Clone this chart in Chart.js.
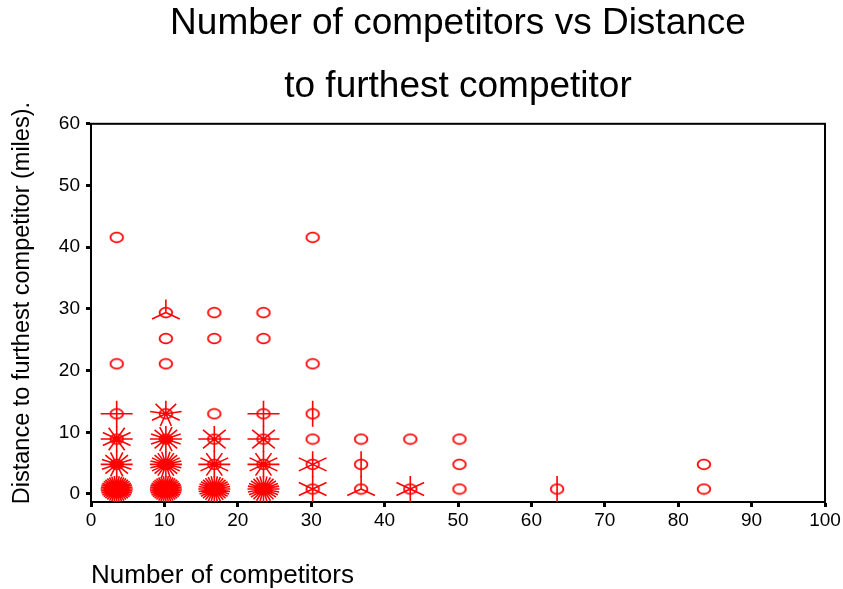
<!DOCTYPE html>
<html>
<head>
<meta charset="utf-8">
<script src="https://cdn.jsdelivr.net/npm/chart.js@4.4.1/dist/chart.umd.min.js"></script>
<style>
  html, body { margin: 0; padding: 0; background: #fff; }
  #wrap { width: 843px; height: 589px; position: relative; }
</style>
</head>
<body>
<div id="wrap"><canvas id="sunflower"></canvas></div>
<script>
// Sunflower plot: each cell centre plus the number of cases in it (petals)
const pointX = [
    3.5, 3.5, 3.5, 3.5, 3.5, 3.5,
    10.2, 10.2, 10.2, 10.2, 10.2, 10.2, 10.2,
    16.8, 16.8, 16.8, 16.8, 16.8, 16.8,
    23.5, 23.5, 23.5, 23.5, 23.5, 23.5,
    30.2, 30.2, 30.2, 30.2, 30.2, 30.2,
    36.8, 36.8, 36.8,
    43.5, 43.5,
    50.2, 50.2, 50.2,
    63.5,
    83.5, 83.5
];
const pointY = [
    0.8, 4.8, 8.9, 13, 21.1, 41.6,
    0.8, 4.8, 8.9, 13, 21.1, 25.2, 29.4,
    0.8, 4.8, 8.9, 13, 25.2, 29.4,
    0.8, 4.8, 8.9, 13, 25.2, 29.4,
    0.8, 4.8, 8.9, 13, 21.1, 41.6,
    0.8, 4.8, 8.9,
    0.8, 8.9,
    0.8, 4.8, 8.9,
    0.8,
    0.8, 4.8
];
const pointCount = [
    40, 16, 12, 4, 1, 1,
    40, 24, 16, 9, 1, 1, 3,
    32, 12, 8, 1, 1, 1,
    28, 12, 8, 4, 1, 1,
    6, 6, 1, 2, 1, 1,
    3, 2, 1,
    6, 1,
    1, 1, 1,
    2,
    1, 1
];
const xTicks = [0, 10, 20, 30, 40, 50, 60, 70, 80, 90, 100];
const yTicks = [0, 10, 20, 30, 40, 50, 60];

const RED = '#ff0000';

// marker: small open ellipse (the original is a bit wider than tall)
function makeMarker() {
    const c = document.createElement('canvas');
    c.width = 16; c.height = 13;
    const g = c.getContext('2d');
    g.strokeStyle = RED;
    g.lineWidth = 1.8;
    g.beginPath();
    g.ellipse(8, 6.5, 6.3, 4.8, 0, 0, Math.PI * 2);
    g.stroke();
    return c;
}

// petals: one line per case, starting straight up
const petalPlugin = {
    id: 'petals',
    afterDatasetsDraw(chart) {
        const ctx = chart.ctx;
        const meta = chart.getDatasetMeta(0);
        ctx.save();
        ctx.strokeStyle = RED;
        ctx.lineWidth = 1.6;
        meta.data.forEach((el, i) => {
            const n = pointCount[i];
            if (n < 2) return;
            ctx.beginPath();
            for (let k = 0; k < n; k++) {
                const a = -Math.PI / 2 + k * 2 * Math.PI / n;
                ctx.moveTo(el.x, el.y);
                ctx.lineTo(el.x + 16 * Math.cos(a), el.y + 13 * Math.sin(a));
            }
            ctx.stroke();
        });
        ctx.restore();
    }
};

// closed frame round the plot area
const framePlugin = {
    id: 'frame',
    beforeDatasetsDraw(chart) {
        const { ctx, chartArea: a } = chart;
        ctx.save();
        ctx.strokeStyle = '#000';
        ctx.lineWidth = 2;
        ctx.strokeRect(a.left, a.top, a.right - a.left, a.bottom - a.top);
        ctx.restore();
    }
};

Chart.defaults.font.family = '"Liberation Sans", Arial, sans-serif';
Chart.defaults.color = '#000';

new Chart(document.getElementById('sunflower'), {
    type: 'scatter',
    data: {
        datasets: [{
            data: pointX.map((x, i) => ({ x: x, y: pointY[i] })),
            pointStyle: makeMarker(),
            pointRadius: 6,
            pointHoverRadius: 6
        }]
    },
    options: {
        responsive: true,
        maintainAspectRatio: false,
        animation: false,
        layout: { padding: { left: 8, right: 18, top: 0, bottom: 0 } },
        plugins: {
            legend: { display: false },
            tooltip: { enabled: false },
            title: {
                display: true,
                fullSize: false,
                text: ['Number of competitors vs Distance', 'to furthest competitor'],
                color: '#000',
                font: { size: 37, weight: 'normal', lineHeight: 1.7 },
                padding: { top: -8, bottom: 6 }
            }
        },
        scales: {
            x: {
                type: 'linear',
                min: 0,
                max: 100,
                afterBuildTicks: axis => { axis.ticks = xTicks.map(v => ({ value: v })); },
                afterFit: axis => { axis.height = 87; },
                ticks: { font: { size: 19 }, padding: 2, maxRotation: 0 },
                grid: { display: true, drawOnChartArea: false, tickLength: 5, tickWidth: 3, tickColor: '#000' },
                border: { color: '#000', width: 2 },
                title: {
                    display: true,
                    text: 'Number of competitors',
                    align: 'start',
                    font: { size: 26, lineHeight: 1 },
                    padding: { top: 0, bottom: 0 }
                }
            },
            y: {
                type: 'linear',
                min: -1.3,
                max: 60,
                afterBuildTicks: axis => { axis.ticks = yTicks.map(v => ({ value: v })); },
                afterFit: axis => { axis.width = 83; },
                ticks: { font: { size: 19 }, padding: 6 },
                grid: { display: true, drawOnChartArea: false, tickLength: 5, tickWidth: 3, tickColor: '#000' },
                border: { color: '#000', width: 2 },
                title: {
                    display: true,
                    // leading spaces nudge the rotated title up a little, as in the original
                    text: '   Distance to furthest competitor (miles).',
                    font: { size: 23.5, lineHeight: 1.2 },
                    padding: { top: 0, bottom: 0 }
                }
            }
        }
    },
    plugins: [petalPlugin, framePlugin]
});
</script>
</body>
</html>
